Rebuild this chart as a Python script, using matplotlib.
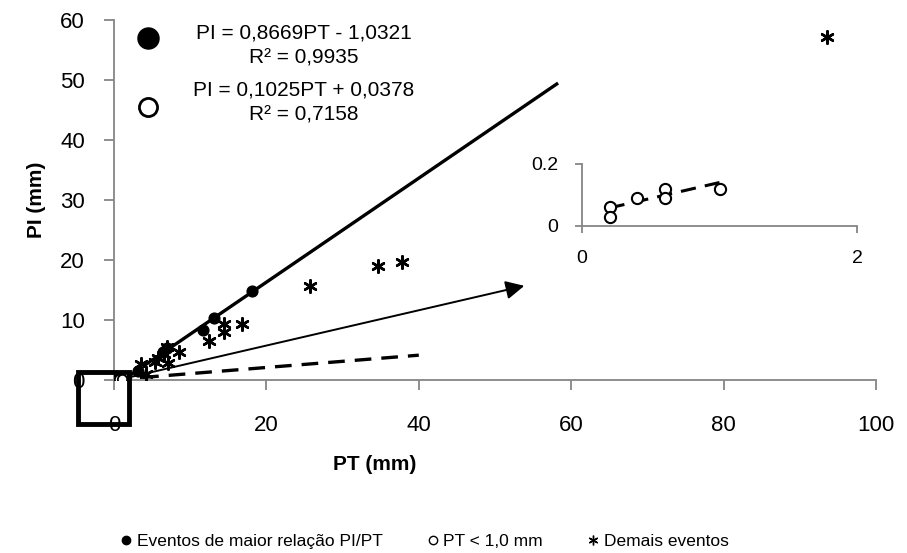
import numpy as np
import matplotlib.pyplot as plt
from matplotlib.patches import Rectangle

plt.rcParams['font.family'] = ['Liberation Sans', 'DejaVu Sans']

# Eventos de maior relação PI/PT
pt_maior = [0.35, 3.2, 6.4, 6.9, 11.7, 13.1, 18.1]
pi_maior = [0.1, 1.55, 4.7, 5.3, 8.4, 10.4, 14.9]

# PT < 1,0 mm
pt_menor = [0.2, 0.2, 0.4, 0.6, 0.6, 1.0]
pi_menor = [0.06, 0.03, 0.09, 0.12, 0.09, 0.12]

# Demais eventos
pt_demais = [3.6, 4.2, 5.4, 5.8, 6.5, 6.9, 7.1, 8.5, 12.5, 14.5, 14.5, 16.8, 25.7, 34.7, 37.8, 93.6]
pi_demais = [2.7, 1.0, 3.05, 3.6, 4.4, 5.5, 2.8, 4.6, 6.55, 8.05, 9.3, 9.3, 15.7, 19.0, 19.7, 57.2]

# trendlines (Excel), forecast forward 40
a1, b1 = 0.8669, -1.0321
a2, b2 = 0.1025, 0.0378
eq1 = "PI = 0,8669PT - 1,0321\nR² = 0,9935"
eq2 = "PI = 0,1025PT + 0,0378\nR² = 0,7158"

W, H = 907, 553
fig = plt.figure(figsize=(W / 100, H / 100), dpi=100)

def box(x0, y0, x1, y1):
    # pixel box -> figure fraction
    return [x0 / W, 1 - y1 / H, (x1 - x0) / W, (y1 - y0) / H]

ax = fig.add_axes(box(114, 20, 876, 380))
gray = '#868686'

x1 = np.array([min(pt_maior), max(pt_maior) + 40])
ax.plot(x1, a1 * x1 + b1, color='black', lw=2.4)
x2 = np.array([min(pt_menor), 40])
ax.plot(x2, a2 * x2 + b2, color='black', lw=2.4, dashes=(5, 3))

ax.scatter(pt_maior, pi_maior, s=60, color='black', zorder=3)
ax.scatter(pt_menor, pi_menor, s=45, facecolor='white', edgecolor='black', lw=1.3, zorder=3)
ax.scatter(pt_demais, pi_demais, s=80, marker=(6, 2, 0), color='black', lw=1.8, zorder=3)

ax.set_xlim(0, 100)
ax.set_ylim(0, 60)
ax.set_xticks([0, 20, 40, 60, 80, 100])
ax.set_yticks([0, 10, 20, 30, 40, 50, 60])
for s in ['top', 'right']:
    ax.spines[s].set_visible(False)
for s in ['left', 'bottom']:
    ax.spines[s].set_color(gray)
    ax.spines[s].set_linewidth(1.3)
ax.tick_params(axis='both', colors=gray, labelcolor='black', length=7, width=1.3, labelsize=16)
ax.tick_params(axis='y', pad=14)
ax.tick_params(axis='x', pad=18)

ax.set_ylabel('PI (mm)', fontsize=15, fontweight='bold', labelpad=10)
fig.text(375 / W, 1 - 465 / H, 'PT (mm)', fontsize=15, fontweight='bold', ha='center', va='center')

# equation labels with markers
ax.scatter([4.46], [57], s=230, color='black', clip_on=False)
ax.scatter([4.46], [45.5], s=170, facecolor='white', edgecolor='black', lw=2, clip_on=False)
ax.text(24.9, 55.75, eq1, fontsize=15, ha='center', va='center', ma='center', linespacing=1.35)
ax.text(24.9, 46.25, eq2, fontsize=15, ha='center', va='center', ma='center', linespacing=1.35)

# zoom box and arrow
ax.add_patch(Rectangle((-4.7, -7.3), 6.7, 8.6, fill=False, edgecolor='black', lw=3.5, clip_on=False, zorder=4))
ax.annotate('', xy=(54.2, 15.8), xytext=(1.5, 0.3),
            arrowprops=dict(arrowstyle='-|>', color='black', lw=1.4, mutation_scale=28))

# inset
ins = fig.add_axes(box(582, 164, 857, 226))
ins.scatter(pt_menor, pi_menor, s=65, facecolor='white', edgecolor='black', lw=1.5, zorder=3)
xi = np.array([min(pt_menor), max(pt_menor)])
ins.plot(xi, a2 * xi + b2, color='black', lw=2.2, dashes=(5, 3))
ins.set_xlim(0, 2)
ins.set_ylim(0, 0.2)
ins.set_xticks([0, 2])
ins.set_yticks([0, 0.2])
ins.set_yticklabels(['0', '0.2'])
for s in ['top', 'right']:
    ins.spines[s].set_visible(False)
for s in ['left', 'bottom']:
    ins.spines[s].set_color(gray)
    ins.spines[s].set_linewidth(1.3)
ins.tick_params(axis='both', colors=gray, labelcolor='black', length=5, width=1.3, labelsize=14)
ins.tick_params(axis='y', pad=12)
ins.tick_params(axis='x', pad=12)

# legend
h1 = plt.Line2D([], [], ls='', marker='o', ms=6, color='black')
h2 = plt.Line2D([], [], ls='', marker='o', ms=6, mfc='white', mec='black')
h3 = plt.Line2D([], [], ls='', marker=(6, 2, 0), ms=7, color='black')
fig.legend([h1, h2, h3], ['Eventos de maior relação PI/PT', 'PT < 1,0 mm', 'Demais eventos'],
           loc='center left', bbox_to_anchor=(102 / W, 1 - 541 / H), ncol=3, frameon=False,
           fontsize=12.5, handletextpad=0.1, columnspacing=2.4, handlelength=1)

fig.savefig('out.png', dpi=100)
